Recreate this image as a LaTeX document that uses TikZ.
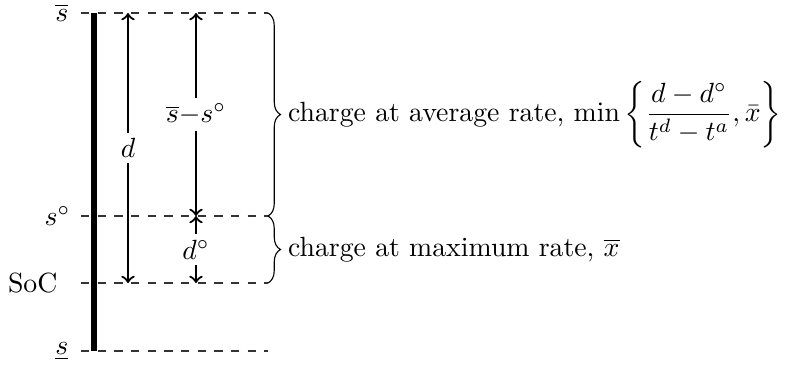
\documentclass[tikz,border=0pt]{standalone}
\usetikzlibrary{decorations.pathreplacing}
\begin{document}
\begin{tikzpicture}[x=0.36pt,y=-0.36pt,
  level/.style={dashed,line width=0.5pt,black!80},
  lvllabel/.style={anchor=east,inner sep=0pt},
  measure/.style={thick,<->},
  midlabel/.style={midway,fill=white,inner sep=2pt},
  bracestyle/.style={decorate,decoration={brace,amplitude=4.5pt},line width=0.4pt},
  bracetext/.style={midway,anchor=west,xshift=6pt,inner sep=1pt}]
\useasboundingbox (0,0) rectangle (788,367);
% levels
\coordinate (Ltop) at (81,13);   \coordinate (Rtop) at (268,13);
\coordinate (Lmid) at (81,216);  \coordinate (Rmid) at (268,216);
\coordinate (Lsoc) at (81,283);  \coordinate (Rsoc) at (268,283);
\coordinate (Lbot) at (81,351);  \coordinate (Rbot) at (268,351);
\draw[level] (Ltop) -- (Rtop);
\draw[level] (Lmid) -- (Rmid);
\draw[level] (Lsoc) -- (Rsoc);
\draw[level] (Lbot) -- (Rbot);
% labels
\node[lvllabel] (lsbar) at ([xshift=-12*0.36pt]Ltop) {$\overline{s}$};
\node[lvllabel] (lscirc) at ([xshift=-10*0.36pt]Lmid) {$s^\circ$};
\node[lvllabel] (lsoc) at ([xshift=-23*0.36pt]Lsoc) {SoC};
\node[lvllabel] (lsund) at ([xshift=-12*0.36pt]Lbot) {$\underline{s}$};
% thick bar
\coordinate (barT) at (94,13);
\coordinate (barB) at (94,351);
\draw[line width=2pt] (barT) -- (barB);
% arrows
\coordinate (dT) at (128,13);  \coordinate (dB) at (128,283);
\coordinate (eT) at (196,13);  \coordinate (eM) at (196,216);  \coordinate (eB) at (196,283);
\draw[measure] (dB) -- node[midlabel] (ld) {$d$} (dT);
\draw[measure] (eM) -- node[midlabel] (lss) {$\overline{s}{-}s^\circ$} (eT);
\draw[measure] (eB) -- node[midlabel] (ldc) {$d^\circ$} (eM);
% braces
\draw[bracestyle] (Rtop) -- node[bracetext] (t1) {charge at average rate, $\displaystyle\min\left\{\frac{d-d^\circ}{t^d-t^a},\bar{x}\right\}$} (Rmid);
\draw[bracestyle] (Rmid) -- node[bracetext] (t2) {charge at maximum rate, $\overline{x}$} (Rsoc);
\end{tikzpicture}
\end{document}
